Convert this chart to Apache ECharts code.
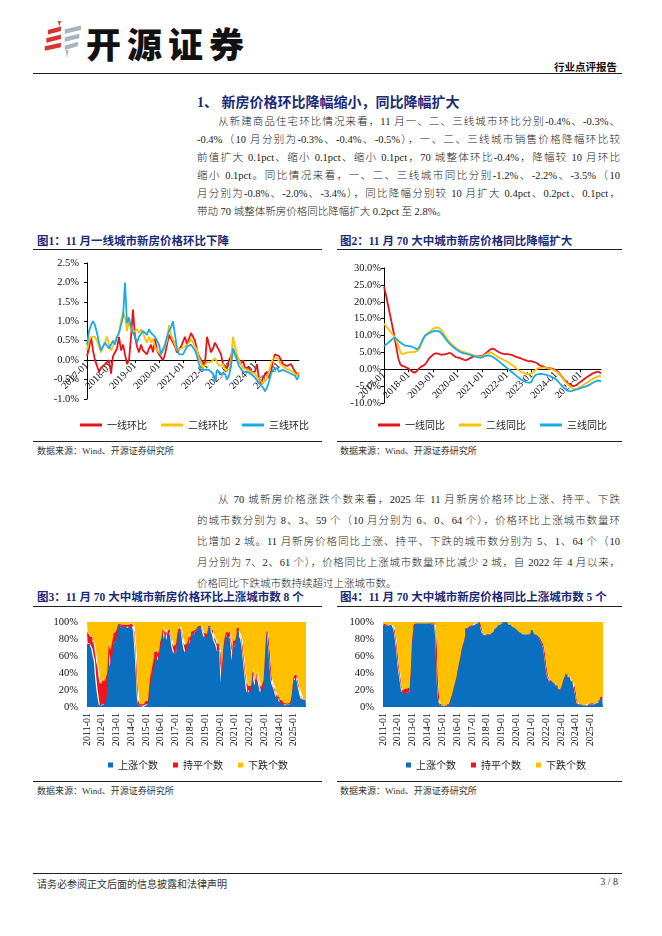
<!DOCTYPE html>
<html><head><meta charset="utf-8">
<script src="https://cdn.jsdelivr.net/npm/echarts@6/dist/echarts.min.js"></script>
<style>
body{margin:0;width:662px;height:936px;background:#fff;position:relative;overflow:hidden;font-family:"Liberation Serif","Noto Sans CJK SC",serif;color:#111}
.a{position:absolute;white-space:nowrap}
.ln{position:absolute;left:197px;width:423px;font-size:10.5px;line-height:14px;white-space:nowrap;text-align:justify;text-align-last:justify;color:#1a1a1a;font-weight:300}
.ln.last{text-align-last:left}
.ttl{position:absolute;font-family:"Liberation Serif","Noto Sans CJK SC",serif;font-weight:bold;font-size:11.5px;color:#1c2a78;white-space:nowrap}
.hr{position:absolute;height:1px;background:#222}
.src{position:absolute;font-size:9px;color:#333;white-space:nowrap;font-family:"Liberation Serif","Noto Sans CJK SC",serif}
.ch{position:absolute}
</style></head><body>
<svg class="a" style="left:44px;top:21px" width="40" height="38" viewBox="0 0 52 42" preserveAspectRatio="none">
<polygon points="18,0 22,0 20,6" fill="#d8342c"/>
<polygon points="5,10 22,6 22,11 5,15" fill="#d8342c"/>
<polygon points="3,19 22,15 22,20 3,24" fill="#d8342c"/>
<polygon points="1,28 22,24 22,29 1,33" fill="#d8342c"/>
<polygon points="27,9 48,5 48,10 27,14" fill="#a7b5c0"/>
<polygon points="27,18 46,14 46,19 27,23" fill="#a7b5c0"/>
<polygon points="27,27 44,23 44,28 27,32" fill="#a7b5c0"/>
<polygon points="28,32 32,32 30,41" fill="#a7b5c0"/>
</svg>
<div class="a" style="left:86px;top:17px;font-family:'Noto Sans CJK SC';font-weight:900;font-size:35px;letter-spacing:6px;color:#111">开源证券</div>
<div class="a" style="right:45px;top:59px;font-family:'Noto Sans CJK SC';font-weight:bold;font-size:10.5px;color:#111">行业点评报告</div>
<div class="hr" style="left:33px;top:73px;width:589px"></div>

<div class="a" style="left:197px;top:91px;font-family:'Liberation Serif','Noto Sans CJK SC';font-weight:bold;font-size:14px;color:#1c2a78">1、 新房价格环比降幅缩小，同比降幅扩大</div>

<div class="ln" style="top:115px;left:218px;width:402px">从新建商品住宅环比情况来看，11 月一、二、三线城市环比分别-0.4%、-0.3%、</div>
<div class="ln" style="top:133px">-0.4%（10 月分别为-0.3%、-0.4%、-0.5%），一、二、三线城市销售价格降幅环比较</div>
<div class="ln" style="top:151px">前值扩大 0.1pct、缩小 0.1pct、缩小 0.1pct，70 城整体环比-0.4%，降幅较 10 月环比</div>
<div class="ln" style="top:169px">缩小 0.1pct。同比情况来看，一、二、三线城市同比分别-1.2%、-2.2%、-3.5%（10</div>
<div class="ln" style="top:187px">月分别为-0.8%、-2.0%、-3.4%），同比降幅分别较 10 月扩大 0.4pct、0.2pct、0.1pct，</div>
<div class="ln last" style="top:205px">带动 70 城整体新房价格同比降幅扩大 0.2pct 至 2.8%。</div>

<div class="ttl" style="left:37px;top:232px">图1：11 月一线城市新房价格环比下降</div>
<div class="ttl" style="left:340px;top:232px">图2：11 月 70 大中城市新房价格同比降幅扩大</div>
<div class="hr" style="left:33px;top:249px;width:289px"></div>
<div class="hr" style="left:337px;top:249px;width:285px"></div>
<div id="c1" class="ch" style="left:33px;top:252px;width:289px;height:188px"></div>
<div id="c2" class="ch" style="left:337px;top:252px;width:285px;height:188px"></div>
<div class="hr" style="left:33px;top:441px;width:289px"></div>
<div class="hr" style="left:337px;top:441px;width:285px"></div>
<div class="src" style="left:37px;top:444px">数据来源：Wind、开源证券研究所</div>
<div class="src" style="left:340px;top:444px">数据来源：Wind、开源证券研究所</div>

<div class="ln" style="top:493px;left:218px;width:402px">从 70 城新房价格涨跌个数来看，2025 年 11 月新房价格环比上涨、持平、下跌</div>
<div class="ln" style="top:514px">的城市数分别为 8、3、59 个（10 月分别为 6、0、64 个），价格环比上涨城市数量环</div>
<div class="ln" style="top:535px">比增加 2 城。11 月新房价格同比上涨、持平、下跌的城市数分别为 5、1、64 个（10</div>
<div class="ln" style="top:556px">月分别为 7、2、61 个），价格同比上涨城市数量环比减少 2 城，自 2022 年 4 月以来，</div>
<div class="ln last" style="top:577px">价格同比下跌城市数持续超过上涨城市数。</div>

<div class="ttl" style="left:37px;top:588px">图3：11 月 70 大中城市新房价格环比上涨城市数 8 个</div>
<div class="ttl" style="left:340px;top:588px">图4：11 月 70 大中城市新房价格同比上涨城市数 5 个</div>
<div class="hr" style="left:33px;top:606px;width:289px"></div>
<div class="hr" style="left:337px;top:606px;width:285px"></div>
<div id="c3" class="ch" style="left:33px;top:610px;width:289px;height:170px"></div>
<div id="c4" class="ch" style="left:337px;top:610px;width:285px;height:170px"></div>
<div class="hr" style="left:33px;top:781px;width:289px"></div>
<div class="hr" style="left:337px;top:781px;width:285px"></div>
<div class="src" style="left:37px;top:784px">数据来源：Wind、开源证券研究所</div>
<div class="src" style="left:340px;top:784px">数据来源：Wind、开源证券研究所</div>

<div class="hr" style="left:33px;top:873px;width:589px"></div>
<div class="src" style="left:37px;top:876px;font-size:10px">请务必参阅正文后面的信息披露和法律声明</div>
<div class="src" style="right:44px;top:876px;font-size:10px">3 / 8</div>

<script>
// ---------- Data: charts 1 & 2 (monthly, 2017-01 .. 2025-11) ----------
const monthsA = [];
for (let y = 2017; y <= 2025; y++) for (let m = 1; m <= 12; m++) { if (y === 2025 && m > 11) break; monthsA.push(y + '-' + String(m).padStart(2, '0')); }

const tier1MoM = [
0.1,0.3,0.6,0.25,0.0,0.0,-0.3,-0.2,-0.2,-0.1,-0.1,0.0,
-0.35,0.1,0.15,0.3,0.6,0.25,0.4,0.15,-0.1,0.0,0.6,1.3,
0.6,0.35,0.2,0.4,0.25,0.3,0.15,0.3,0.4,0.2,0.55,0.25,
0.15,0.1,0.0,0.15,0.4,0.65,0.6,0.45,0.35,0.2,0.15,0.35,
0.3,0.6,0.4,0.55,0.7,0.7,0.5,0.25,0.1,0.0,0.0,-0.1,
0.6,0.4,0.2,0.3,0.45,0.5,0.25,0.15,-0.1,-0.1,-0.2,0.0,
0.1,0.3,0.15,0.1,0.0,-0.1,0.0,-0.2,-0.15,-0.2,-0.3,-0.35,
-0.3,-0.1,-0.5,-0.6,-0.45,-0.4,-0.3,-0.45,-0.3,0.0,0.15,0.2,
0.1,0.1,-0.1,-0.1,-0.15,-0.2,-0.1,-0.2,-0.3,-0.3,-0.4];
const tier2MoM = [
0.25,0.5,0.6,0.6,0.6,0.5,0.35,0.2,0.35,0.45,0.6,0.4,
0.25,0.35,0.5,0.6,0.7,1.0,1.25,1.1,0.75,1.0,0.8,0.7,
0.7,0.8,0.7,0.8,0.7,0.55,0.45,0.6,0.45,0.55,0.35,0.25,
0.3,0.15,0.1,0.35,0.5,0.9,0.65,0.6,0.4,0.25,0.2,0.3,
0.35,0.35,0.4,0.45,0.55,0.45,0.35,0.25,0.05,0.0,-0.2,-0.15,
-0.05,0.0,-0.05,0.0,0.05,0.0,-0.15,-0.2,-0.1,-0.25,-0.3,-0.25,
0.0,0.6,0.35,0.15,0.0,-0.05,-0.2,-0.15,-0.25,-0.25,-0.3,-0.3,
-0.35,-0.35,-0.5,-0.55,-0.6,-0.55,-0.45,-0.3,-0.1,0.05,0.1,0.05,
0.0,-0.1,-0.15,-0.2,-0.25,-0.25,-0.25,-0.3,-0.35,-0.4,-0.3];
const tier3MoM = [
0.4,0.75,0.9,1.0,0.9,0.7,0.45,0.25,0.35,0.45,0.4,0.3,
0.35,0.5,0.4,0.6,0.7,0.75,1.1,2.0,0.95,1.1,0.85,0.7,
0.6,0.45,0.6,0.6,0.75,0.75,0.65,0.8,0.7,0.7,0.6,0.5,
0.4,0.15,0.2,0.4,0.6,0.75,0.85,1.0,0.65,0.3,0.15,0.1,
0.15,0.25,0.35,0.35,0.4,0.35,0.25,0.1,-0.1,-0.25,-0.3,-0.25,
-0.25,-0.25,-0.2,-0.35,-0.55,-0.25,-0.3,-0.35,-0.3,-0.35,-0.5,-0.4,
-0.15,0.3,0.15,0.0,-0.15,-0.2,-0.3,-0.25,-0.3,-0.35,-0.35,-0.4,
-0.45,-0.45,-0.6,-0.65,-0.7,-0.8,-0.7,-0.55,-0.35,-0.25,-0.2,-0.2,
-0.3,-0.25,-0.25,-0.3,-0.3,-0.3,-0.35,-0.35,-0.4,-0.5,-0.4];

const tier1YoY = [
24.5,21.9,18.9,16.0,13.0,10.0,6.6,3.2,1.4,1.0,0.8,0.5,
0.2,-0.3,-0.8,-1.0,-0.6,0.2,0.7,1.0,1.4,2.2,3.2,3.8,
4.3,4.7,4.7,4.5,4.3,4.4,4.4,4.6,4.9,4.6,4.1,3.6,
3.5,3.3,3.1,2.8,2.7,2.9,3.3,3.6,3.8,3.8,3.9,3.9,
3.9,4.3,4.9,5.4,5.9,6.1,5.9,5.5,5.1,4.8,4.6,4.5,
4.5,4.4,4.3,4.1,3.8,3.6,3.4,3.2,2.9,2.7,2.5,2.4,
2.4,2.2,2.0,1.7,1.2,1.0,0.7,0.5,0.4,0.3,0.2,0.0,
-0.3,-0.8,-1.6,-2.3,-3.1,-3.7,-4.3,-4.7,-4.9,-4.9,-4.7,-4.2,
-3.7,-3.3,-2.8,-2.4,-2.0,-1.6,-1.2,-1.0,-0.8,-0.8,-1.2];
const tier2YoY = [
13.5,12.8,12.0,11.2,10.4,9.8,8.6,7.1,5.1,4.5,4.7,4.9,
5.0,5.1,5.1,5.1,5.4,5.9,7.1,8.6,9.8,10.5,11.0,11.5,
12.0,12.3,12.4,12.2,11.5,10.7,9.8,8.9,8.1,7.5,6.9,6.4,
5.9,5.5,5.3,5.1,4.9,4.7,4.5,4.3,4.1,3.9,3.8,3.6,
3.7,4.1,4.5,4.8,4.9,4.7,4.3,3.9,3.5,3.2,2.9,2.6,
2.3,1.9,1.5,1.1,0.6,0.1,-0.4,-0.8,-1.1,-1.3,-1.4,-1.4,
-1.3,-0.9,-0.2,0.2,0.4,0.5,0.5,0.4,0.3,0.2,0.0,-0.3,
-0.6,-1.1,-1.8,-2.5,-3.3,-4.0,-4.6,-5.1,-5.7,-5.9,-5.9,-5.6,
-5.2,-4.8,-4.4,-4.0,-3.6,-3.2,-2.8,-2.5,-2.2,-2.0,-2.2];
const tier3YoY = [
6.9,7.3,7.8,8.3,8.9,9.3,9.1,8.5,7.9,7.5,7.1,6.9,
6.9,6.8,6.6,6.3,5.9,6.3,7.6,8.9,9.9,10.3,10.7,11.0,
11.2,11.4,11.4,11.2,10.7,9.9,9.1,8.3,7.6,7.0,6.5,6.0,
5.6,5.2,4.9,4.7,4.6,4.4,4.3,4.1,3.9,3.7,3.5,3.4,
3.5,3.8,4.0,4.1,4.0,3.7,3.3,2.9,2.4,1.9,1.4,0.9,
0.4,-0.1,-0.6,-1.1,-1.6,-2.1,-2.6,-3.0,-3.4,-3.7,-3.9,-4.0,
-3.8,-2.5,-1.7,-1.5,-1.4,-1.4,-1.5,-1.6,-1.8,-2.0,-2.3,-2.6,
-3.0,-3.6,-4.3,-5.0,-5.6,-6.1,-6.4,-6.5,-6.4,-6.2,-6.0,-5.8,
-5.6,-5.4,-5.2,-5.0,-4.7,-4.4,-4.0,-3.7,-3.4,-3.4,-3.5];

// ---------- Data: charts 3 & 4 (city counts of 70, 2011-01 .. 2025-11) ----------
const monthsB = [];
for (let y = 2011; y <= 2025; y++) for (let m = 1; m <= 12; m++) { if (y === 2025 && m > 11) break; monthsB.push(y + '-' + String(m).padStart(2, '0')); }

const momUp = [
52,53,52,50,48,42,38,25,15,8,2,1,
1,2,3,5,12,36,44,33,42,50,53,54,
60,65,68,67,65,66,66,67,66,65,66,65,
67,66,62,48,30,8,2,1,1,0,1,1,
2,2,10,18,22,28,33,38,40,42,38,48,
52,60,63,56,62,55,60,62,58,50,46,44,
45,56,60,62,63,60,52,47,45,48,52,56,
52,58,60,60,62,63,65,67,66,65,62,58,
58,57,63,66,65,62,60,55,53,50,46,47,
45,20,38,50,56,60,58,57,60,52,38,50,
50,56,62,62,58,56,50,40,30,20,12,14,
12,14,25,29,20,18,28,22,17,12,14,18,
36,55,64,57,46,31,20,17,15,11,8,7,
5,4,3,3,2,1,2,2,2,3,9,18,
24,22,24,21,15,11,7,6,5,6,8];
const momFlat = [
10,8,8,8,10,12,14,20,22,25,22,18,
20,22,18,20,16,14,10,14,12,9,8,8,
5,3,1,2,3,2,2,1,2,3,2,3,
2,3,5,10,12,8,4,2,1,2,2,3,
3,3,6,8,8,8,8,7,6,6,6,6,
5,4,3,4,3,4,3,2,3,5,6,6,
8,5,4,3,3,3,5,6,6,5,5,4,
5,4,3,3,2,2,1,1,1,2,2,3,
3,3,2,1,2,2,3,4,4,5,6,5,
6,10,8,5,4,3,4,4,3,4,8,5,
5,4,3,3,3,3,4,4,5,5,5,6,
5,4,4,3,4,4,3,4,4,4,5,4,
4,3,2,3,3,3,3,3,3,2,3,2,
3,2,3,2,2,2,2,1,1,2,2,3,
4,4,3,2,3,3,4,2,1,0,3];
const momDown = [
8,9,10,12,12,16,18,25,33,37,46,51,
49,46,49,45,42,20,16,23,16,11,9,8,
5,2,1,1,2,2,2,2,2,2,2,2,
1,1,3,12,28,54,64,67,68,68,67,66,
65,65,54,44,40,34,29,25,24,22,26,16,
13,6,4,10,5,11,7,6,9,15,18,20,
17,9,6,5,4,7,13,17,19,17,13,10,
13,8,7,7,6,5,4,2,3,3,6,9,
9,10,5,3,3,6,7,11,13,15,18,18,
19,40,24,15,10,7,8,9,7,14,24,15,
15,10,5,5,9,11,16,26,35,45,53,50,
53,52,41,38,46,48,39,44,49,54,51,48,
30,12,4,10,21,36,47,50,52,57,59,61,
62,64,64,65,66,67,66,67,67,65,59,49,
42,44,43,47,52,56,59,62,64,64,59];

const yoyUp = [
68,68,67,67,67,67,68,68,66,63,56,48,
36,28,21,14,12,12,11,12,12,13,28,52,
62,67,69,69,69,69,69,69,69,69,69,69,
69,69,69,68,68,68,68,52,20,6,2,1,
1,1,1,1,1,2,5,8,12,16,20,24,
30,35,40,46,50,53,59,64,65,66,66,67,
67,68,68,69,69,70,70,66,62,60,59,60,
60,59,59,60,61,62,64,65,66,67,68,68,
69,70,70,70,70,69,68,68,67,66,66,65,
64,63,62,62,61,60,60,59,60,59,60,61,
64,63,61,60,60,59,58,56,54,52,48,40,
32,26,23,21,21,20,20,19,18,17,15,14,
16,20,23,26,27,26,25,24,22,21,19,15,
9,3,2,2,2,2,2,1,1,2,2,2,
2,2,2,3,3,3,4,5,7,7,5];
const yoyFlat = [
1,1,1,1,1,1,0,0,1,2,3,4,
3,3,3,3,2,3,4,4,3,3,3,3,
2,1,0,0,0,0,0,0,0,0,0,0,
0,0,0,1,1,1,1,2,2,1,1,1,
0,0,0,1,1,1,1,1,1,1,1,1,
1,1,1,1,1,1,0,1,0,0,0,0,
0,0,1,0,0,0,0,1,1,1,1,0,
0,1,1,1,0,0,0,0,0,0,0,0,
0,0,0,0,0,0,0,0,0,0,0,0,
0,0,0,0,0,0,0,0,0,1,0,0,
0,0,0,0,0,0,0,0,0,0,1,1,
1,1,1,1,1,0,0,1,0,1,0,1,
1,1,1,0,1,1,0,1,1,0,1,1,
1,1,0,1,0,0,0,0,0,0,0,1,
1,1,1,0,0,1,1,1,1,2,1];
const yoyDown = [
1,1,2,2,2,2,2,2,3,5,11,18,
31,39,46,53,56,55,55,54,55,54,39,15,
6,2,1,1,1,1,1,1,1,1,1,1,
1,1,1,1,1,1,1,16,48,63,67,68,
69,69,69,68,68,67,64,61,57,53,49,45,
39,34,29,23,19,16,11,5,5,4,4,3,
3,2,1,1,1,0,0,3,7,9,10,10,
10,10,10,9,9,8,6,5,4,3,2,2,
1,0,0,0,0,1,2,2,3,4,4,5,
6,7,8,8,9,10,10,11,10,10,10,9,
6,7,9,10,10,11,12,14,16,18,21,29,
37,43,46,48,48,50,50,50,52,52,55,55,
53,49,46,44,42,43,45,45,47,49,50,54,
60,66,68,67,68,68,68,69,69,68,68,67,
67,67,67,67,67,66,65,64,62,61,64];

// ---------- Styling ----------
const RED = '#E8141B', YEL = '#FFC000', CYAN = '#1AABE6';
const BLUE = '#0A6FBF', RED2 = '#F0141B', YEL2 = '#FFC000';
const SERIF = 'Liberation Serif';
const CJK = 'Noto Sans CJK SC';

function lineChart(el, names, datas, colors, yCfg, gridCfg, legendLeft, zeroOffset) {
  const c = echarts.init(document.getElementById(el));
  c.setOption({
    animation: false,
    grid: gridCfg,
    legend: { left: legendLeft, top: 163, icon: 'rect', itemWidth: 22, itemHeight: 3, itemGap: 14,
      textStyle: { fontSize: 10, fontFamily: CJK, color: '#222' }, data: names },
    xAxis: { type: 'category', data: monthsA, boundaryGap: false, position: 'bottom', offset: zeroOffset,
      axisLine: { onZero: false, lineStyle: { color: '#000', width: 1 } },
      axisTick: { interval: 11, length: 3, lineStyle: { color: '#000' } },
      axisLabel: { interval: 11, rotate: 45, fontSize: 10, fontFamily: SERIF, color: '#111', margin: 4, hideOverlap: false } },
    yAxis: Object.assign({ type: 'value', splitLine: { show: false },
      axisLine: { show: true, lineStyle: { color: '#000', width: 1 } },
      axisTick: { show: true, length: 3, lineStyle: { color: '#000' } } }, yCfg),
    series: names.map((n, i) => ({ name: n, type: 'line', data: datas[i], symbol: 'none', smooth: false,
      lineStyle: { width: 1.8, color: colors[i] }, itemStyle: { color: colors[i] } }))
  });
}

// grid heights: c1 = 188-11-41 = 136px over 3.5 units, zero sits 1/3.5 above bottom
lineChart('c1', ['一线环比', '二线环比', '三线环比'], [tier1MoM, tier2MoM, tier3MoM], [RED, YEL, CYAN],
  { min: -1, max: 2.5, interval: 0.5,
    axisLabel: { formatter: v => v.toFixed(1) + '%', fontSize: 10.5, fontFamily: SERIF, color: '#111', margin: 8 } },
  { left: 54, right: 23, top: 11, bottom: 41 }, 42, -136 / 3.5);

// c2 = 188-16-37 = 135px over 40 units, zero sits 10/40 above bottom
lineChart('c2', ['一线同比', '二线同比', '三线同比'], [tier1YoY, tier2YoY, tier3YoY], [RED, YEL, CYAN],
  { min: -10, max: 30, interval: 5,
    axisLabel: { formatter: v => v.toFixed(1) + '%', fontSize: 10.5, fontFamily: SERIF, color: '#111', margin: 3 } },
  { left: 47, right: 21, top: 16, bottom: 37 }, 36, -135 / 4);

function pct(a, b, c) { return a.map((v, i) => +(v / (a[i] + b[i] + c[i]) * 100).toFixed(3)); }

function areaChart(el, up, flat, down, gridCfg, legendLeft) {
  const c = echarts.init(document.getElementById(el));
  const names = ['上涨个数', '持平个数', '下跌个数'];
  const cols = [BLUE, RED2, YEL2];
  const ds = [pct(up, flat, down), pct(flat, up, down), pct(down, up, flat)];
  c.setOption({
    animation: false,
    grid: gridCfg,
    legend: { left: legendLeft, top: 145, icon: 'rect', itemWidth: 5, itemHeight: 5, itemGap: 15,
      textStyle: { fontSize: 10, fontFamily: CJK, color: '#222' }, data: names },
    xAxis: { type: 'category', data: monthsB, boundaryGap: false,
      axisLine: { show: false }, axisTick: { show: false },
      axisLabel: { interval: 11, rotate: 90, fontSize: 10, fontFamily: SERIF, color: '#111', margin: 6 } },
    yAxis: { type: 'value', min: 0, max: 100, interval: 20, splitLine: { show: false },
      axisLine: { show: false }, axisTick: { show: false },
      axisLabel: { formatter: '{value}%', fontSize: 10.5, fontFamily: SERIF, color: '#111', margin: 9 } },
    series: names.map((n, i) => ({ name: n, type: 'line', stack: 'all', step: 'middle', data: ds[i], symbol: 'none',
      lineStyle: { width: 0, color: cols[i] }, itemStyle: { color: cols[i] },
      areaStyle: { color: cols[i], opacity: 1 } }))
  });
}

areaChart('c3', momUp, momFlat, momDown, { left: 54, right: 16, top: 12, bottom: 73 }, 70);
areaChart('c4', yoyUp, yoyFlat, yoyDown, { left: 46, right: 19, top: 12, bottom: 73 }, 64);
</script>
</body></html>
